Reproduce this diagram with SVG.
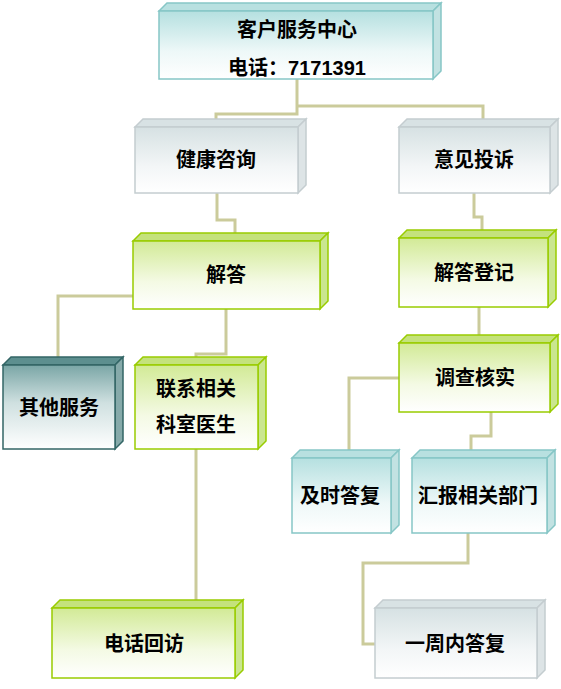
<svg xmlns="http://www.w3.org/2000/svg" width="561" height="689" viewBox="0 0 561 689">
<style>
.t{font-family:"Liberation Sans","Noto Sans CJK SC",sans-serif;font-weight:bold;font-size:20px;fill:#000;text-anchor:middle}
.c{fill:none;stroke:#cbcb9b;stroke-width:3;stroke-linejoin:miter}
.teal .f{fill:url(#gTeal);stroke:#86c6c6}
.teal .tp{fill:#b8e0e0;stroke:#86c6c6}
.teal .sd{fill:#c2e2e2;stroke:#86c6c6}
.gray .f{fill:url(#gGray);stroke:#c4cdd0}
.gray .tp{fill:#d8e2e4;stroke:#c4cdd0}
.gray .sd{fill:#dde4e6;stroke:#c4cdd0}
.green .f{fill:url(#gGreen);stroke:#99cc00}
.green .tp{fill:#c4e27c;stroke:#99cc00}
.green .sd{fill:#cae690;stroke:#99cc00}
.dark .f{fill:url(#gDark);stroke:#336666}
.dark .tp{fill:#5d8f8f;stroke:#336666}
.dark .sd{fill:#86aaaa;stroke:#336666}
.f,.tp,.sd{stroke-width:1.5}
</style>
<defs>
<linearGradient id="gTeal" x1="0" y1="0" x2="0" y2="1"><stop offset="0" stop-color="#b5e0e0"/><stop offset="0.6" stop-color="#eef8f8"/><stop offset="1" stop-color="#ffffff"/></linearGradient>
<linearGradient id="gGray" x1="0" y1="0" x2="0" y2="1"><stop offset="0" stop-color="#d6e1e3"/><stop offset="0.6" stop-color="#f3f6f7"/><stop offset="1" stop-color="#ffffff"/></linearGradient>
<linearGradient id="gGreen" x1="0" y1="0" x2="0" y2="1"><stop offset="0" stop-color="#d2ea96"/><stop offset="0.6" stop-color="#f4fae4"/><stop offset="1" stop-color="#ffffff"/></linearGradient>
<linearGradient id="gDark" x1="0" y1="0" x2="0" y2="1"><stop offset="0" stop-color="#7aa6a6"/><stop offset="0.45" stop-color="#cfe0e0"/><stop offset="1" stop-color="#ffffff"/></linearGradient>
</defs>
<g id="connectors">
<path class="c" d="M297,79 V114 H216 V119"/>
<path class="c" d="M297,106 H483 V119"/>
<path class="c" d="M217,193 V220 H235 V233"/>
<path class="c" d="M474,193 V217 H482 V230"/>
<path class="c" d="M133,296 H58 V357"/>
<path class="c" d="M226,309 V354 H196 V357"/>
<path class="c" d="M196,449 V600"/>
<path class="c" d="M479,307 V335"/>
<path class="c" d="M399,378 H349 V450"/>
<path class="c" d="M491,412 V436 H471 V450"/>
<path class="c" d="M468,533 V563 H363 V644 H375"/>
</g>
<g id="n1" class="teal">
<polygon class="tp" points="159,11 167,3 441,3 433,11"/>
<polygon class="sd" points="433,11 441,3 441,71 433,79"/>
<rect class="f" x="159" y="11" width="274" height="68"/>
<text class="t" x="297" y="37">客户服务中心</text>
<text class="t" x="297" y="75">电话：7171391</text>
</g>
<g id="n2" class="gray">
<polygon class="tp" points="135,127 143,119 306,119 298,127"/>
<polygon class="sd" points="298,127 306,119 306,185 298,193"/>
<rect class="f" x="135" y="127" width="163" height="66"/>
<text class="t" x="216" y="167">健康咨询</text>
</g>
<g id="n3" class="gray">
<polygon class="tp" points="399,127 407,119 558,119 550,127"/>
<polygon class="sd" points="550,127 558,119 558,185 550,193"/>
<rect class="f" x="399" y="127" width="151" height="66"/>
<text class="t" x="474" y="167">意见投诉</text>
</g>
<g id="n4" class="green">
<polygon class="tp" points="133,241 141,233 328,233 320,241"/>
<polygon class="sd" points="320,241 328,233 328,301 320,309"/>
<rect class="f" x="133" y="241" width="187" height="68"/>
<text class="t" x="226" y="282">解答</text>
</g>
<g id="n5" class="green">
<polygon class="tp" points="399,238 407,230 556,230 548,238"/>
<polygon class="sd" points="548,238 556,230 556,299 548,307"/>
<rect class="f" x="399" y="238" width="149" height="69"/>
<text class="t" x="474" y="280">解答登记</text>
</g>
<g id="n6" class="dark">
<polygon class="tp" points="3,365 11,357 123,357 115,365"/>
<polygon class="sd" points="115,365 123,357 123,441 115,449"/>
<rect class="f" x="3" y="365" width="112" height="84"/>
<text class="t" x="59" y="415">其他服务</text>
</g>
<g id="n7" class="green">
<polygon class="tp" points="135,365 143,357 266,357 258,365"/>
<polygon class="sd" points="258,365 266,357 266,441 258,449"/>
<rect class="f" x="135" y="365" width="123" height="84"/>
<text class="t" x="196" y="396">联系相关</text>
<text class="t" x="196" y="432">科室医生</text>
</g>
<g id="n8" class="green">
<polygon class="tp" points="399,343 407,335 558,335 550,343"/>
<polygon class="sd" points="550,343 558,335 558,404 550,412"/>
<rect class="f" x="399" y="343" width="151" height="69"/>
<text class="t" x="475" y="385">调查核实</text>
</g>
<g id="n9" class="teal">
<polygon class="tp" points="292,458 300,450 399,450 391,458"/>
<polygon class="sd" points="391,458 399,450 399,525 391,533"/>
<rect class="f" x="292" y="458" width="99" height="75"/>
<text class="t" x="340" y="503">及时答复</text>
</g>
<g id="n10" class="teal">
<polygon class="tp" points="412,458 420,450 555,450 547,458"/>
<polygon class="sd" points="547,458 555,450 555,525 547,533"/>
<rect class="f" x="412" y="458" width="135" height="75"/>
<text class="t" x="478" y="503">汇报相关部门</text>
</g>
<g id="n11" class="green">
<polygon class="tp" points="52,608 60,600 243,600 235,608"/>
<polygon class="sd" points="235,608 243,600 243,670 235,678"/>
<rect class="f" x="52" y="608" width="183" height="70"/>
<text class="t" x="144" y="651">电话回访</text>
</g>
<g id="n12" class="gray">
<polygon class="tp" points="375,608 383,600 545,600 537,608"/>
<polygon class="sd" points="537,608 545,600 545,670 537,678"/>
<rect class="f" x="375" y="608" width="162" height="70"/>
<text class="t" x="455" y="651">一周内答复</text>
</g>
</svg>
